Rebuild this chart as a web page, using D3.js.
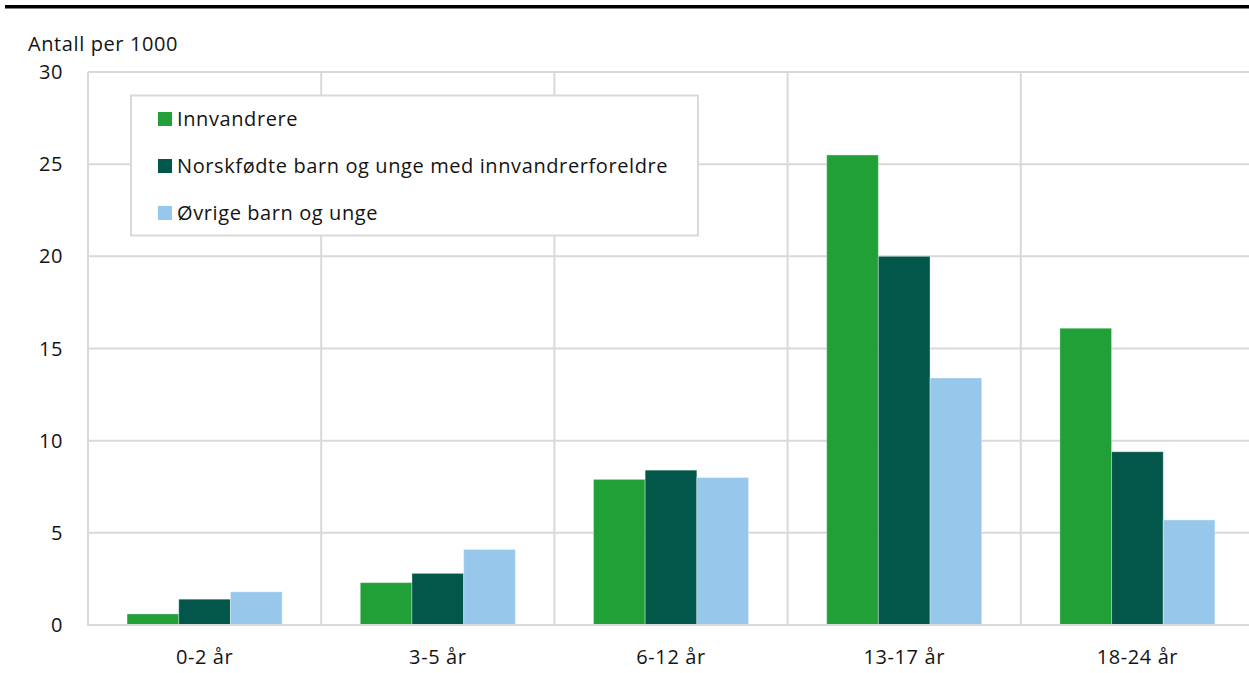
<!DOCTYPE html>
<html>
<head>
<meta charset="utf-8">
<script src="https://cdn.jsdelivr.net/npm/d3@7/dist/d3.min.js"></script>
<style>
  body { margin: 0; background: #fff; }
  svg { display: block; font-family: "Open Sans", "Noto Sans", sans-serif; }
  text { letter-spacing: 0.6px; }
</style>
</head>
<body>
<div id="chart"></div>
<script>
// Data
var categories = ["0-2 år", "3-5 år", "6-12 år", "13-17 år", "18-24 år"];
var seriesNames = ["Innvandrere", "Norskfødte barn og unge med innvandrerforeldre", "Øvrige barn og unge"];
var innvandrere = [0.6, 2.3, 7.9, 25.5, 16.1];
var norskfodte = [1.4, 2.8, 8.4, 20.0, 9.4];
var ovrige = [1.8, 4.1, 8.0, 13.4, 5.7];
var yTicks = [0, 5, 10, 15, 20, 25, 30];
var colors = ["#21a038", "#02574a", "#97c8ec"];

var W = 1249, H = 673;
var margin = { top: 72, left: 88, bottom: 47 };
var plotRight = 1254; // last category ends just past the window edge
var fontSize = 20;

var svg = d3.select("#chart").append("svg")
  .attr("width", W)
  .attr("height", H);

// Top black rule
svg.append("rect")
  .attr("x", 5).attr("y", 5)
  .attr("width", W - 5).attr("height", 3.5)
  .attr("fill", "#000");

var x0 = d3.scaleBand()
  .domain(categories)
  .range([margin.left, plotRight])
  .paddingInner(0)
  .paddingOuter(0);

var x1 = d3.scaleBand()
  .domain(d3.range(seriesNames.length))
  .range([0, x0.bandwidth()])
  .paddingOuter(0.756)
  .paddingInner(0);

var y = d3.scaleLinear()
  .domain([0, 30])
  .range([H - margin.bottom - 1, margin.top]);

// Horizontal gridlines
svg.append("g").selectAll("line")
  .data(yTicks)
  .enter().append("line")
  .attr("x1", margin.left).attr("x2", W)
  .attr("y1", function (d) { return y(d); })
  .attr("y2", function (d) { return y(d); })
  .attr("stroke", "#d9d9d9")
  .attr("stroke-width", 2);

// Vertical gridlines at category boundaries
svg.append("g").selectAll("line")
  .data(categories)
  .enter().append("line")
  .attr("x1", function (d) { return x0(d); })
  .attr("x2", function (d) { return x0(d); })
  .attr("y1", y(30))
  .attr("y2", y(0))
  .attr("stroke", "#d9d9d9")
  .attr("stroke-width", 2);

// Bars
var series = [innvandrere, norskfodte, ovrige];
series.forEach(function (vals, si) {
  svg.append("g").selectAll("rect")
    .data(vals)
    .enter().append("rect")
    .attr("x", function (d, i) { return x0(categories[i]) + x1(si); })
    .attr("y", function (d) { return y(d); })
    .attr("width", x1.bandwidth())
    .attr("height", function (d) { return y(0) - y(d); })
    .attr("fill", colors[si])
    .attr("stroke", "#ffffff")
    .attr("stroke-opacity", 0.35)
    .attr("stroke-width", 1);
});

// Bottom axis line over the bars
svg.append("line")
  .attr("x1", margin.left - 1).attr("x2", W)
  .attr("y1", y(0)).attr("y2", y(0))
  .attr("stroke", "#d9d9d9")
  .attr("stroke-width", 2);

// Y tick labels
svg.append("g").selectAll("text")
  .data(yTicks)
  .enter().append("text")
  .attr("x", 63)
  .attr("y", function (d) { return y(d); })
  .attr("dy", "0.35em")
  .attr("text-anchor", "end")
  .attr("font-size", fontSize)
  .attr("fill", "#141414")
  .text(function (d) { return d; });

// X labels
svg.append("g").selectAll("text")
  .data(categories)
  .enter().append("text")
  .attr("x", function (d) { return x0(d) + x0.bandwidth() / 2; })
  .attr("y", 664)
  .attr("text-anchor", "middle")
  .attr("font-size", fontSize)
  .attr("fill", "#141414")
  .text(function (d) { return d; });

// Y axis title
svg.append("text")
  .attr("x", 28).attr("y", 51)
  .attr("font-size", fontSize)
  .attr("fill", "#141414")
  .text("Antall per 1000");

// Legend
var legend = svg.append("g");
legend.append("rect")
  .attr("x", 131).attr("y", 95.5)
  .attr("width", 567).attr("height", 140)
  .attr("fill", "#fff")
  .attr("stroke", "#d9d9d9")
  .attr("stroke-width", 2);

seriesNames.forEach(function (name, i) {
  var cy = 119 + i * 47;
  legend.append("rect")
    .attr("x", 158).attr("y", cy - 7)
    .attr("width", 14).attr("height", 14)
    .attr("fill", colors[i]);
  legend.append("text")
    .attr("x", 177).attr("y", cy)
    .attr("dy", "0.35em")
    .attr("font-size", fontSize)
    .attr("fill", "#141414")
    .text(name);
});
</script>
</body>
</html>
